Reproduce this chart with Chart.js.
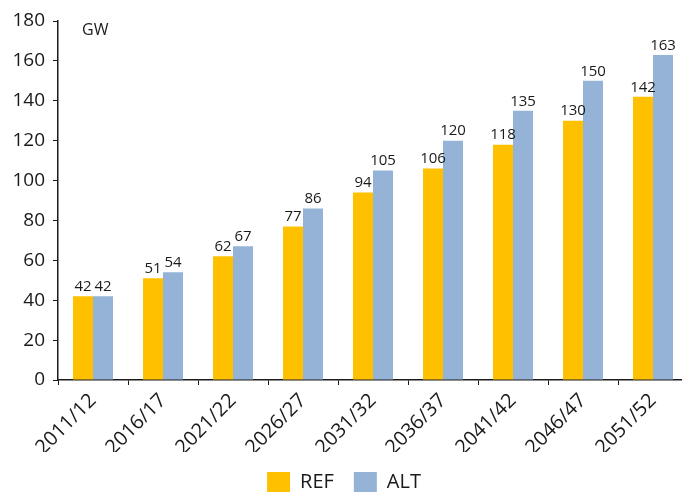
<!DOCTYPE html>
<html>
<head>
<meta charset="utf-8">
<script src="https://cdn.jsdelivr.net/npm/chart.js@4.4.0/dist/chart.umd.min.js"></script>
<style>
  html, body { margin: 0; padding: 0; background: #fff; overflow: hidden; }
  #wrap { width: 690px; height: 492px; }
</style>
</head>
<body>
<div id="wrap"><canvas id="capacity" width="690" height="492"></canvas></div>
<script>
// Installed capacity by year, GW
const years = ['2011/12', '2016/17', '2021/22', '2026/27', '2031/32', '2036/37', '2041/42', '2046/47', '2051/52'];
const refValues = [42, 51, 62, 77, 94, 106, 118, 130, 142];
const altValues = [42, 54, 67, 86, 105, 120, 135, 150, 163];
const yTicks = [0, 20, 40, 60, 80, 100, 120, 140, 160, 180];

const FONT = "'Open Sans', 'Liberation Sans', sans-serif";
const INK = '#1a1a1a';
const PLOT_BOTTOM = 380;
const LEGEND_DROP = 11;

// Value labels on top of each bar
const barLabels = {
    id: 'barLabels',
    afterDatasetsDraw(chart) {
        const ctx = chart.ctx;
        ctx.save();
        ctx.font = '15px ' + FONT;
        ctx.fillStyle = INK;
        ctx.textAlign = 'center';
        ctx.textBaseline = 'bottom';
        chart.data.datasets.forEach((ds, i) => {
            chart.getDatasetMeta(i).data.forEach((bar, j) => {
                ctx.fillText(ds.data[j], bar.x, bar.y - 2);
            });
        });
        ctx.restore();
    }
};

// Unit label in the top-left corner of the plot
const unitLabel = {
    id: 'unitLabel',
    afterDraw(chart) {
        const ctx = chart.ctx;
        const area = chart.chartArea;
        ctx.save();
        ctx.font = '16px ' + FONT;
        ctx.fillStyle = INK;
        ctx.textBaseline = 'alphabetic';
        ctx.fillText('GW', area.left + 24, area.top + 14);
        ctx.restore();
    }
};

new Chart(document.getElementById('capacity'), {
    type: 'bar',
    data: {
        labels: years,
        datasets: [
            { label: 'REF', data: refValues, backgroundColor: '#FFC000' },
            { label: 'ALT', data: altValues, backgroundColor: '#95B3D7' }
        ]
    },
    options: {
        responsive: false,
        animation: false,
        layout: { padding: { top: 21, right: 2, left: 0, bottom: -LEGEND_DROP } },
        datasets: {
            bar: { categoryPercentage: 40 / 70, barPercentage: 1, borderWidth: 0 }
        },
        plugins: {
            tooltip: { enabled: false },
            legend: {
                position: 'bottom',
                labels: {
                    boxWidth: 23,
                    boxHeight: 21,
                    padding: 20,
                    color: INK,
                    font: { family: FONT, size: 20 }
                }
            }
        },
        scales: {
            x: {
                grid: {
                    display: true,
                    drawOnChartArea: false,
                    offset: true,
                    tickLength: 5,
                    tickColor: INK
                },
                border: { color: INK, width: 1.5 },
                ticks: {
                    color: INK,
                    font: { family: FONT, size: 20 },
                    maxRotation: 45,
                    minRotation: 45,
                    padding: 4
                },
                afterFit(s) {
                    const legendH = s.chart.legend ? s.chart.legend.height : 40;
                    s.height = 492 + LEGEND_DROP - PLOT_BOTTOM - legendH;
                }
            },
            y: {
                min: 0,
                max: 180,
                afterBuildTicks(s) {
                    s.ticks = yTicks.map(v => ({ value: v }));
                },
                grid: {
                    display: true,
                    drawOnChartArea: false,
                    tickLength: 5,
                    tickColor: INK
                },
                border: { color: INK, width: 1.5 },
                ticks: {
                    color: INK,
                    font: { family: FONT, size: 19 },
                    padding: 8
                },
                afterFit(s) {
                    s.width = 58;
                }
            }
        }
    },
    plugins: [barLabels, unitLabel]
});
</script>
</body>
</html>
